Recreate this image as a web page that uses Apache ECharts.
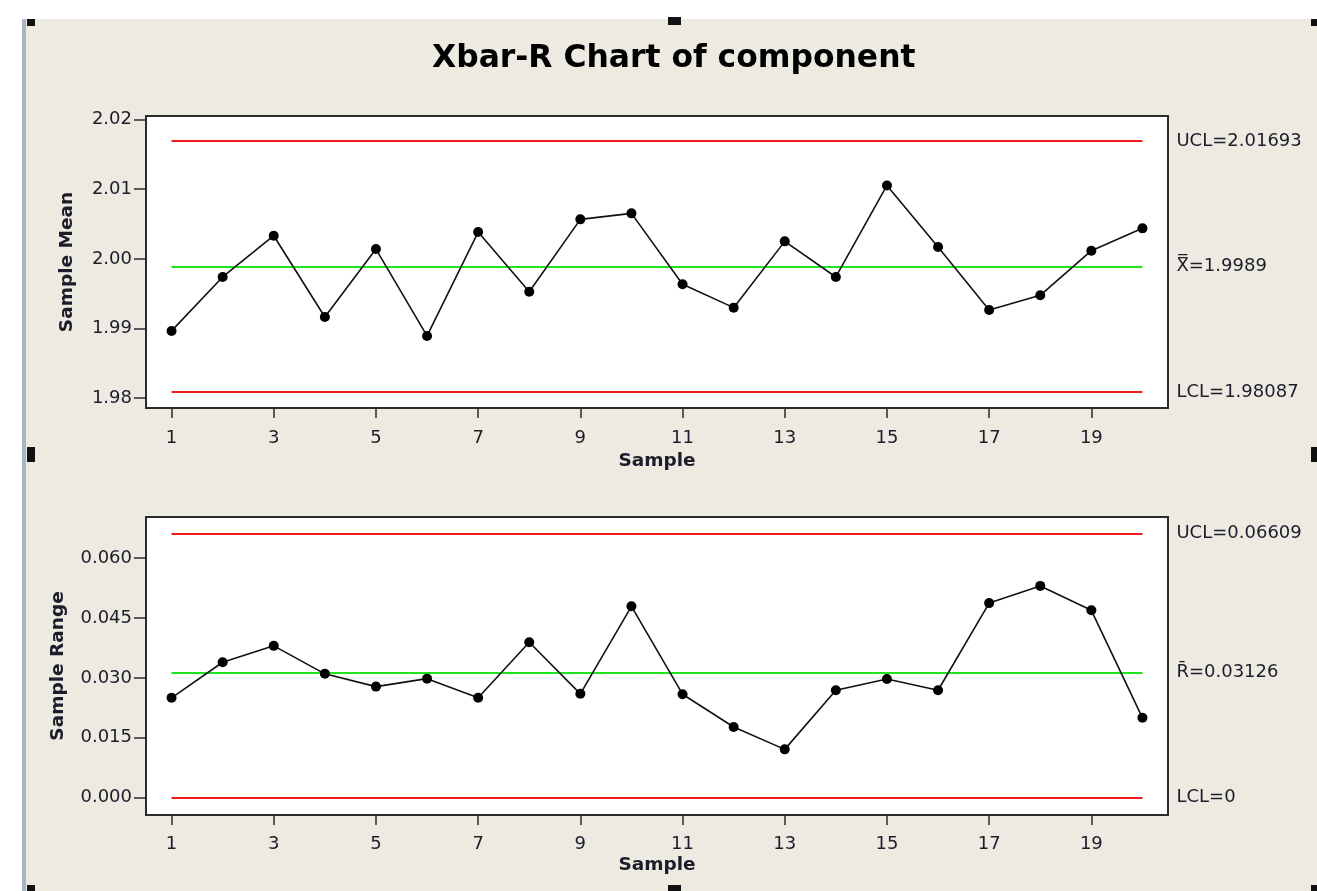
<!DOCTYPE html>
<html>
<head>
<meta charset="utf-8">
<title>Xbar-R Chart of component</title>
<script src="https://cdn.jsdelivr.net/npm/echarts@6/dist/echarts.min.js"></script>
<style>
  html, body { margin: 0; padding: 0; background: #ffffff; }
  #chart { position: absolute; left: 0; top: 0; width: 1317px; height: 891px; }
</style>
</head>
<body>
<div id="chart"></div>
<script>
// Sample numbers (subgroups of the component measurements)
const samples = [1, 2, 3, 4, 5, 6, 7, 8, 9, 10, 11, 12, 13, 14, 15, 16, 17, 18, 19, 20];

// Subgroup means
const sampleMeans = [
  1.98966, 1.99740, 2.00332, 1.99166, 2.00141, 1.98894, 2.00385, 1.99529, 2.00567, 2.00653,
  1.99635, 1.99300, 2.00251, 1.99740, 2.01054, 2.00170, 1.99267, 1.99477, 2.00117, 2.00438
];

// Subgroup ranges
const sampleRanges = [
  0.0250, 0.0339, 0.0380, 0.0310, 0.0278, 0.0298, 0.0250, 0.0389, 0.0260, 0.0479,
  0.0259, 0.0177, 0.0121, 0.0269, 0.0297, 0.0269, 0.0487, 0.0530, 0.0469, 0.0200
];

// Control limits
const meanLimits = { ucl: 2.01693, center: 1.9989, lcl: 1.98087 };
const rangeLimits = { ucl: 0.06609, center: 0.03126, lcl: 0 };

// Tick labels
const sampleTicks = [1, 3, 5, 7, 9, 11, 13, 15, 17, 19];
const meanTicks = [1.98, 1.99, 2.00, 2.01, 2.02];
const rangeTicks = [0.000, 0.015, 0.030, 0.045, 0.060];

// Limit labels
const meanLabels = ['UCL=2.01693', 'X\u033F=1.9989', 'LCL=1.98087'];
const rangeLabels = ['UCL=0.06609', 'R\u0304=0.03126', 'LCL=0'];

const FONT = "'DejaVu Sans', Verdana, sans-serif";
const TEXT = '#1c1c2a';
const RED = '#f01c1c';
const GREEN = '#1ee61e';

function limitLine(y, text, color) {
  return [
    {
      coord: [samples[0], y],
      lineStyle: { color: color, width: 2, type: 'solid' },
      label: {
        show: true, position: 'end', distance: 34, formatter: text,
        color: TEXT, fontSize: 18, fontFamily: FONT
      }
    },
    { coord: [samples[samples.length - 1], y] }
  ];
}

function limitLines(lim, labels) {
  return [
    limitLine(lim.ucl, labels[0], RED),
    limitLine(lim.center, labels[1], GREEN),
    limitLine(lim.lcl, labels[2], RED)
  ];
}

function xAxisFor(gridIndex, labelMargin, nameGap) {
  return {
    type: 'value', gridIndex: gridIndex, min: 0.5, max: 20.5, position: 'bottom',
    name: 'Sample', nameLocation: 'middle', nameGap: nameGap,
    nameTextStyle: { fontFamily: FONT, fontWeight: 'bold', fontSize: 18.5, color: TEXT },
    axisLine: { show: false, onZero: false },
    axisTick: { show: true, inside: false, length: 10, customValues: sampleTicks,
      lineStyle: { color: '#2b2b2b', width: 1.5 } },
    axisLabel: { show: true, margin: labelMargin, customValues: sampleTicks,
      fontFamily: FONT, fontSize: 18, color: TEXT },
    splitLine: { show: false }
  };
}

function yAxisFor(gridIndex, min, max, ticks, decimals, name, nameGap) {
  return {
    type: 'value', gridIndex: gridIndex, min: min, max: max, position: 'left',
    name: name, nameLocation: 'middle', nameGap: nameGap, nameRotate: 90,
    nameTextStyle: { fontFamily: FONT, fontWeight: 'bold', fontSize: 18.5, color: TEXT },
    axisLine: { show: false, onZero: false },
    axisTick: { show: true, inside: false, length: 12, customValues: ticks,
      lineStyle: { color: '#2b2b2b', width: 1.5 } },
    axisLabel: { show: true, margin: 14, customValues: ticks,
      formatter: v => Number(v).toFixed(decimals),
      fontFamily: FONT, fontSize: 18, color: TEXT },
    splitLine: { show: false }
  };
}

function dataSeries(values, xi, yi, lim, labels) {
  return {
    type: 'line', xAxisIndex: xi, yAxisIndex: yi, z: 3,
    data: samples.map((s, i) => [s, values[i]]),
    symbol: 'circle', symbolSize: 10, showSymbol: true,
    lineStyle: { color: '#111111', width: 1.6 },
    itemStyle: { color: '#000000' },
    animation: false,
    markLine: {
      z: 1, silent: true, symbol: ['none', 'none'], animation: false,
      data: limitLines(lim, labels)
    }
  };
}

const chart = echarts.init(document.getElementById('chart'), null, { renderer: 'canvas' });

chart.setOption({
  animation: false,
  backgroundColor: '#edeae1',
  title: {
    text: 'Xbar-R Chart of component',
    left: 432, top: 43, padding: 0,
    textStyle: { fontFamily: FONT, fontWeight: 'bold', fontSize: 31.4, color: '#000000' }
  },
  graphic: [
    { type: 'rect', shape: { x: 0, y: 0, width: 1317, height: 19 }, style: { fill: '#ffffff' }, silent: true },
    { type: 'rect', shape: { x: 0, y: 0, width: 22, height: 891 }, style: { fill: '#ffffff' }, silent: true },
    { type: 'rect', shape: { x: 22, y: 19, width: 4, height: 872 }, style: { fill: '#a9b4c6' }, silent: true },
    { type: 'rect', shape: { x: 27, y: 19, width: 8, height: 7 }, style: { fill: '#111111' }, silent: true },
    { type: 'rect', shape: { x: 668, y: 17, width: 13, height: 8 }, style: { fill: '#111111' }, silent: true },
    { type: 'rect', shape: { x: 1311, y: 19, width: 6, height: 7 }, style: { fill: '#111111' }, silent: true },
    { type: 'rect', shape: { x: 27, y: 447, width: 8, height: 15 }, style: { fill: '#111111' }, silent: true },
    { type: 'rect', shape: { x: 1311, y: 447, width: 6, height: 15 }, style: { fill: '#111111' }, silent: true },
    { type: 'rect', shape: { x: 27, y: 885, width: 8, height: 6 }, style: { fill: '#111111' }, silent: true },
    { type: 'rect', shape: { x: 668, y: 885, width: 13, height: 6 }, style: { fill: '#111111' }, silent: true },
    { type: 'rect', shape: { x: 1311, y: 885, width: 6, height: 6 }, style: { fill: '#111111' }, silent: true }
  ],
  grid: [
    { left: 146, top: 116, width: 1022, height: 292, show: true,
      backgroundColor: '#ffffff', borderColor: '#2b2b2b', borderWidth: 2 },
    { left: 146, top: 517, width: 1022, height: 298, show: true,
      backgroundColor: '#ffffff', borderColor: '#2b2b2b', borderWidth: 2 }
  ],
  xAxis: [xAxisFor(0, 21, 44), xAxisFor(1, 20, 41)],
  yAxis: [
    yAxisFor(0, 1.9786, 2.0205, meanTicks, 2, 'Sample Mean', 69),
    yAxisFor(1, -0.00432, 0.07024, rangeTicks, 3, 'Sample Range', 78)
  ],
  series: [
    dataSeries(sampleMeans, 0, 0, meanLimits, meanLabels),
    dataSeries(sampleRanges, 1, 1, rangeLimits, rangeLabels)
  ]
});
</script>
</body>
</html>
